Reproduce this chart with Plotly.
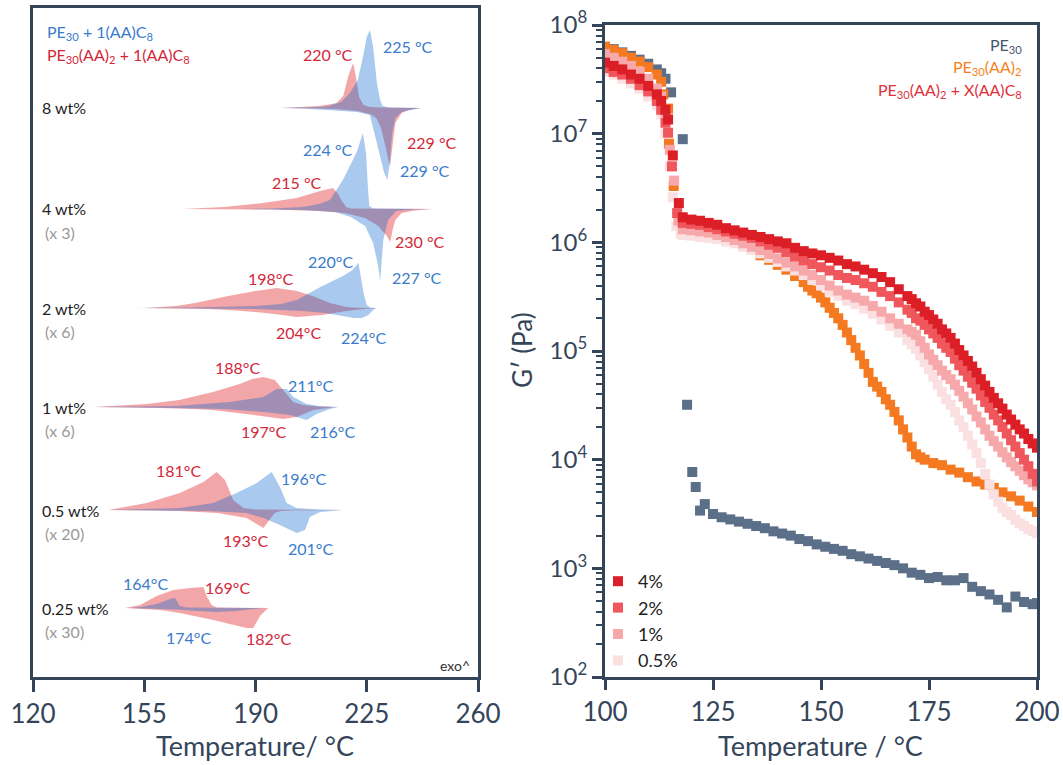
import plotly.graph_objects as go

W, H = 1063, 765
def px(x): return x / W
def py(y): return 1 - y / H

FONT = "Lato"
AX = "#34455a"
RED_TXT = "#d3283a"
BLUE_TXT = "#3a7bcc"

# ---------------- Left panel: DSC curves ----------------
LEVELS = ["8 wt%", "4 wt%", "2 wt%", "1 wt%", "0.5 wt%", "0.25 wt%"]
SCALES = ["", "(x 3)", "(x 6)", "(x 6)", "(x 20)", "(x 30)"]
BASELINES = [569, 468, 369, 270, 167, 69]  # vertical offsets (a.u.)

# PE30(AA)2 + 1(AA)C8  (red)
red_upT = {
    "8 wt%": [198, 205, 210, 214, 215.5, 217.6, 219.1, 220.7, 221.6, 222.6, 224, 226, 230, 242],
    "4 wt%": [167, 180, 192.4, 203, 210.3, 214.4, 216, 217, 218.5, 220, 246],
    "2 wt%": [154.7, 165, 171, 181.4, 190, 196.7, 203, 208, 213.4, 218.6, 222, 228],
    "1 wt%": [139, 150, 155.8, 166, 176.6, 185, 189, 192.5, 196.1, 198.7, 201.9, 205, 210, 215],
    "0.5 wt%": [143.7, 155.8, 166.2, 173.6, 177.8, 180.4, 183, 186.2, 190, 217.5],
    "0.25 wt%": [148.9, 153.7, 158.9, 164.1, 169.4, 173.6, 174.6, 176.2, 177.8, 194],
}
red_up = {
    "8 wt%": [0, 1, 2, 4, 5, 12, 31, 45, 31, 11, 3, 1, 0.5, 0],
    "4 wt%": [0, 2, 6, 11, 18, 21, 15, 9, 2, 0.5, 0],
    "2 wt%": [0, 2, 5, 12, 17, 20, 17, 12, 5, 1, 0.3, 0],
    "1 wt%": [0, 1.5, 3, 7, 15, 23, 28, 30, 27, 17, 5, 2, 0.5, 0],
    "0.5 wt%": [0, 7, 17, 28, 38, 30, 10, 2, 0.5, 0],
    "0.25 wt%": [0, 3, 12, 18, 20, 21, 12, 3, 0.5, 0],
}
red_dnT = {
    "8 wt%": [198, 210, 215, 222, 226, 228, 229.5, 231, 232.3, 233, 234, 236, 238, 242],
    "4 wt%": [167, 195, 210, 218, 224.5, 228.6, 231.3, 232.4, 233.2, 234, 236, 240, 246],
    "2 wt%": [154.7, 175, 181.4, 190, 196, 203, 208, 211, 218.6, 224, 228],
    "1 wt%": [139, 160, 170, 176.6, 187, 198.7, 202.9, 208.2, 213.4, 215],
    "0.5 wt%": [143.7, 166, 178, 187.2, 192.5, 194.5, 196, 198, 201, 217.5],
    "0.25 wt%": [148.9, 160, 166.2, 176.7, 187.2, 189.3, 191.4, 194],
}
red_dn = {
    "8 wt%": [0, 0.5, 1, 3, 6, 10, 20, 40, 59, 40, 15, 5, 2, 0],
    "4 wt%": [0, 0.5, 2, 4, 9, 17, 27, 33, 20, 11, 4, 1.5, 0],
    "2 wt%": [0, 1, 2, 4, 6, 9, 8, 7, 3, 1, 0],
    "1 wt%": [0, 1, 2, 3, 7, 12, 10, 3, 0.7, 0],
    "0.5 wt%": [0, 1, 3, 8, 18, 10, 3, 1, 0.5, 0],
    "0.25 wt%": [0, 2, 5, 12, 20, 20, 8, 0],
}

# PE30 + 1(AA)C8  (blue)
blue_upT = {
    "8 wt%": [198, 205, 210, 213, 217, 219.7, 222.2, 223.8, 225, 226, 227, 228.2, 229.2, 230, 232, 242],
    "4 wt%": [185, 195, 205, 210, 213.4, 217.5, 220, 222, 223.8, 224.8, 225.4, 225.8, 227, 245],
    "2 wt%": [152, 170, 190, 198, 203, 211, 217.5, 220.5, 222.4, 223.2, 224, 225, 226, 228],
    "1 wt%": [139, 165, 182, 192.5, 196.6, 199.8, 201.9, 206.1, 210, 216],
    "0.5 wt%": [143.7, 166.2, 176.7, 184, 190.4, 195.1, 197.7, 199.8, 202.9, 210, 217.6],
    "0.25 wt%": [150, 153.7, 158.9, 163.1, 164.7, 166.2, 168.3, 192.5],
}
blue_up = {
    "8 wt%": [0, 0.5, 1, 2, 6, 15, 28, 51, 71, 78, 61, 25, 8, 2, 0.5, 0],
    "4 wt%": [0, 0.5, 2, 5, 9, 29, 45, 58, 76, 55, 20, 3, 0.5, 0],
    "2 wt%": [0, 0.5, 2, 4, 8, 22, 32, 38, 45, 30, 15, 3, 0.5, 0],
    "1 wt%": [0, 1, 5, 10, 18, 18, 10, 3, 1, 0],
    "0.5 wt%": [0, 2, 7, 17, 27, 38, 23, 7, 2, 0.5, 0],
    "0.25 wt%": [0, 1, 4, 9, 10, 2, 0.5, 0],
}
blue_dnT = {
    "8 wt%": [198, 205, 213, 222, 226, 227.5, 229, 230.5, 231.5, 232.3, 233, 234, 236, 242],
    "4 wt%": [185, 205, 215, 220, 224.5, 227, 228.6, 229.2, 229.7, 230.2, 231.7, 234.3, 240, 245],
    "2 wt%": [152, 190, 205, 212, 217, 221, 223.5, 225.5, 227, 228],
    "1 wt%": [139, 165, 180, 192.5, 200.8, 206.1, 209.2, 213.4, 216],
    "0.5 wt%": [143.7, 175, 187.2, 192.5, 197.7, 202.9, 205.6, 207.1, 210.3, 217.6],
    "0.25 wt%": [150, 165.1, 171.5, 177.8, 184, 192.5],
}
blue_dn = {
    "8 wt%": [0, 0.5, 2, 4, 7, 25, 45, 65, 72, 52, 25, 10, 4, 0],
    "4 wt%": [0, 1, 3, 8, 17, 34, 57, 72, 50, 31, 11, 2, 0.5, 0],
    "2 wt%": [0, 1, 3, 5, 8, 10, 10, 7, 2, 0],
    "1 wt%": [0, 1, 2, 5, 8, 13, 7, 2, 0],
    "0.5 wt%": [0, 1, 3, 8, 15, 23, 20, 7, 2, 0],
    "0.25 wt%": [0, 1.5, 3, 4, 3, 0],
}

# peak labels: (text, colour-key, x px, y px)
PEAK_LABELS = [
    ("220 °C", "r", 328, 55), ("225 °C", "b", 408, 46), ("229 °C", "r", 432, 142),
    ("229 °C", "b", 425, 170), ("224 °C", "b", 328, 150), ("215 °C", "r", 297, 182),
    ("230 °C", "r", 420, 241), ("220°C", "b", 330, 261), ("227 °C", "b", 417, 277),
    ("198°C", "r", 270, 278), ("204°C", "r", 298, 332), ("224°C", "b", 363, 337),
    ("188°C", "r", 237, 367), ("211°C", "b", 310, 385), ("197°C", "r", 263, 431),
    ("216°C", "b", 332, 431), ("181°C", "r", 178, 470), ("196°C", "b", 303, 478),
    ("193°C", "r", 245, 540), ("201°C", "b", 310, 548), ("164°C", "b", 145, 583),
    ("169°C", "r", 227, 587), ("174°C", "b", 188, 637), ("182°C", "r", 268, 638),
]

# ---------------- Right panel: G' vs T ----------------
T_pe30 = [100, 102, 104, 106, 108, 110, 112, 113, 114, 115.3, 118, 119, 120.2, 121, 122, 123.1,
          125, 127, 129, 131, 133, 135, 137, 139, 141, 143, 145, 147, 149, 151, 153, 155, 157, 159,
          161, 163, 165, 167, 169, 171, 173, 175, 177, 179, 181, 183, 185, 187, 189, 191, 193, 195,
          197, 199, 200]
G_pe30 = [6.3e7, 6.0e7, 5.6e7, 5.2e7, 4.8e7, 4.4e7, 3.9e7, 3.6e7, 3.2e7, 2.4e7, 8.9e6, 3.2e4, 7.7e3,
          5.6e3, 3.4e3, 3.9e3, 3.16e3, 2.95e3, 2.82e3, 2.69e3, 2.57e3, 2.45e3, 2.34e3, 2.19e3, 2.09e3,
          2.0e3, 1.86e3, 1.78e3, 1.66e3, 1.58e3, 1.51e3, 1.45e3, 1.35e3, 1.29e3, 1.23e3, 1.17e3,
          1.12e3, 1.07e3, 1.0e3, 912, 871, 813, 832, 776, 776, 813, 676, 617, 575, 513, 437, 550,
          490, 468, 479]

T_aa2 = [100, 102, 104, 106, 108, 110, 112, 113, 113.5, 114.6, 114.8, 115.9, 117.4,
         118, 120, 122, 124, 126, 128, 130, 132, 134, 136, 138, 140, 142, 144, 146, 147, 148, 149,
         150, 151, 152, 153, 154, 155, 156, 157, 158, 159, 160, 161, 162, 163, 164, 165, 166, 167,
         168, 169, 170, 171, 172, 173, 174, 176, 178, 180, 182, 184, 186, 188, 190, 192, 194, 196,
         198, 200]
G_aa2 = [6.3e7, 5.9e7, 5.5e7, 5.0e7, 4.6e7, 4.1e7, 3.5e7, 3.0e7, 2.3e7, 1.7e7, 8.1e6, 3.3e6, 1.5e6,
         1.48e6, 1.41e6, 1.35e6, 1.29e6, 1.23e6, 1.15e6, 1.07e6, 9.5e5, 8.5e5, 7.6e5, 6.9e5, 6.2e5,
         5.6e5, 4.9e5, 4.3e5, 3.9e5, 3.6e5, 3.4e5, 3.1e5, 2.8e5, 2.5e5, 2.24e5, 2.0e5, 1.74e5,
         1.48e5, 1.26e5, 1.07e5, 9.1e4, 7.6e4, 6.3e4, 5.2e4, 4.7e4, 4.2e4, 3.6e4, 3.2e4, 2.75e4,
         2.3e4, 1.9e4, 1.6e4, 1.32e4, 1.12e4, 1.05e4, 1.0e4, 9.3e3, 8.9e3, 8.1e3, 7.6e3, 6.9e3,
         6.3e3, 5.9e3, 5.5e3, 5.0e3, 4.6e3, 4.2e3, 3.7e3, 3.3e3]

T_4 = [100, 102, 104, 106, 108, 110, 112, 113, 114, 114.6, 115.7, 117.1,
       118, 120, 122, 124, 126, 128, 130, 132, 134, 136, 138, 140, 142, 144, 146, 148, 150, 152,
       154, 156, 158, 160, 162, 164, 166, 168, 170, 171, 172, 173, 174, 175, 176, 177, 178, 179,
       180, 181, 182, 183, 184, 185, 186, 187, 188, 189, 190, 191, 192, 193, 194, 195, 196, 197,
       198, 199, 200]
G_4 = [4.5e7, 4.2e7, 3.9e7, 3.5e7, 3.2e7, 2.75e7, 2.3e7, 2.0e7, 1.66e7, 1.35e7, 6.3e6, 2.3e6,
       1.7e6, 1.62e6, 1.58e6, 1.51e6, 1.45e6, 1.35e6, 1.29e6, 1.23e6, 1.17e6, 1.12e6, 1.07e6,
       1.02e6, 9.8e5, 8.9e5, 8.3e5, 7.9e5, 7.6e5, 7.2e5, 6.8e5, 6.3e5, 6.0e5, 5.6e5, 5.2e5, 4.8e5,
       4.3e5, 3.7e5, 3.2e5, 3.0e5, 2.75e5, 2.57e5, 2.3e5, 2.14e5, 1.95e5, 1.78e5, 1.58e5, 1.45e5,
       1.32e5, 1.17e5, 1.02e5, 9.1e4, 8.1e4, 7.2e4, 6.3e4, 5.5e4, 4.8e4, 4.2e4, 3.7e4, 3.3e4,
       2.95e4, 2.6e4, 2.34e4, 2.1e4, 1.9e4, 1.74e4, 1.55e4, 1.41e4, 1.29e4]

T_2 = [100, 102, 104, 106, 108, 110, 112, 113, 114, 114.6, 115.5, 116.7,
       118, 120, 122, 124, 126, 128, 130, 132, 134, 136, 138, 140, 142, 144, 146, 148, 150, 152,
       154, 156, 158, 160, 162, 164, 166, 168, 170, 171, 172, 173, 174, 175, 176, 177, 178, 179,
       180, 181, 182, 183, 184, 185, 186, 187, 188, 189, 190, 191, 192, 193, 194, 195, 196, 197,
       198, 199, 200]
G_2 = [4.0e7, 3.7e7, 3.5e7, 3.2e7, 2.8e7, 2.45e7, 2.0e7, 1.66e7, 1.26e7, 1.02e7, 5.0e6, 1.86e6,
       1.51e6, 1.48e6, 1.45e6, 1.38e6, 1.32e6, 1.26e6, 1.20e6, 1.15e6, 1.10e6, 1.02e6, 9.5e5,
       8.9e5, 8.1e5, 7.4e5, 6.8e5, 6.3e5, 5.9e5, 5.5e5, 5.0e5, 4.7e5, 4.5e5, 4.2e5, 3.9e5, 3.5e5,
       3.2e5, 2.8e5, 2.4e5, 2.24e5, 2.0e5, 1.9e5, 1.74e5, 1.58e5, 1.45e5, 1.32e5, 1.17e5, 1.07e5,
       9.8e4, 8.5e4, 7.4e4, 6.6e4, 5.8e4, 5.1e4, 4.5e4, 3.9e4, 3.4e4, 3.0e4, 2.6e4, 2.3e4, 2.0e4,
       1.74e4, 1.51e4, 1.32e4, 1.15e4, 1.0e4, 8.7e3, 7.4e3, 6.3e3]

T_1 = [100, 102, 104, 106, 108, 110, 112, 113, 114, 115, 116, 117,
       118, 120, 122, 124, 126, 128, 130, 132, 134, 136, 138, 140, 142, 144, 146, 148, 150, 152,
       154, 156, 158, 160, 162, 164, 166, 168, 170, 171, 172, 173, 174, 175, 176, 177, 178, 179,
       180, 181, 182, 183, 184, 185, 186, 187, 188, 189, 190, 191, 192, 193, 194, 195, 196, 197,
       198, 199, 200]
G_1 = [5.4e7, 5.0e7, 4.6e7, 4.2e7, 3.7e7, 3.2e7, 2.6e7, 2.2e7, 1.58e7, 7.1e6, 3.7e6, 1.58e6,
       1.32e6, 1.29e6, 1.26e6, 1.23e6, 1.17e6, 1.12e6, 1.05e6, 9.8e5, 9.1e5, 8.5e5, 7.8e5, 7.1e5,
       6.5e5, 6.0e5, 5.5e5, 5.0e5, 4.5e5, 4.0e5, 3.6e5, 3.3e5, 3.1e5, 2.9e5, 2.6e5, 2.3e5, 2.0e5,
       1.78e5, 1.58e5, 1.5e5, 1.41e5, 1.23e5, 1.07e5, 9.3e4, 8.3e4, 7.4e4, 6.6e4, 6.0e4, 5.5e4,
       4.9e4, 4.3e4, 3.8e4, 3.3e4, 2.9e4, 2.5e4, 2.2e4, 1.9e4, 1.66e4, 1.48e4, 1.32e4, 1.17e4,
       1.05e4, 9.5e3, 8.7e3, 7.9e3, 7.2e3, 6.6e3, 6.2e3, 5.8e3]

T_05 = [100, 102, 104, 106, 108, 110, 112, 113, 114, 115, 115.7, 116.5, 117.5,
        118, 120, 122, 124, 126, 128, 130, 132, 134, 136, 138, 140, 142, 144, 146, 148, 150, 152,
        154, 156, 158, 160, 162, 164, 166, 168, 170, 171, 172, 173, 174, 175, 176, 177, 178, 179,
        180, 181, 182, 183, 184, 185, 186, 187, 188, 189, 190, 191, 192, 193, 194, 195, 196, 197,
        198, 199, 200]
G_05 = [3.7e7, 3.5e7, 3.2e7, 2.9e7, 2.6e7, 2.2e7, 1.82e7, 1.51e7, 1.0e7, 5.0e6, 2.6e6, 1.41e6,
        1.2e6, 1.17e6, 1.15e6, 1.12e6, 1.10e6, 1.07e6, 1.02e6, 9.8e5, 9.1e5, 8.5e5, 7.9e5, 7.2e5,
        6.6e5, 6.0e5, 5.5e5, 5.0e5, 4.5e5, 4.0e5, 3.5e5, 3.2e5, 2.9e5, 2.7e5, 2.45e5, 2.2e5,
        1.95e5, 1.7e5, 1.48e5, 1.26e5, 1.15e5, 1.05e5, 9.1e4, 7.9e4, 6.8e4, 5.8e4, 4.9e4, 4.2e4,
        3.6e4, 3.2e4, 2.75e4, 2.3e4, 2.0e4, 1.66e4, 1.38e4, 1.15e4, 9.3e3, 7.4e3, 5.9e3, 4.8e3,
        4.1e3, 3.6e3, 3.3e3, 3.1e3, 2.8e3, 2.6e3, 2.45e3, 2.3e3, 2.2e3, 2.1e3]

fig = go.Figure()

# --- DSC shapes: red first, blue on top ---
def shape(upT, up, dnT, dn, base):
    xs = list(upT) + list(dnT)[::-1]
    ys = [base + v for v in up] + [base - v for v in dn][::-1]
    return xs, ys

for lvl, base in zip(LEVELS, BASELINES):
    xs, ys = shape(red_upT[lvl], red_up[lvl], red_dnT[lvl], red_dn[lvl], base)
    fig.add_trace(go.Scatter(x=xs, y=ys, fill="toself", mode="lines", line=dict(width=0),
                             fillcolor="rgba(235,107,110,0.6)", showlegend=False,
                             hoverinfo="skip", xaxis="x", yaxis="y"))
for lvl, base in zip(LEVELS, BASELINES):
    xs, ys = shape(blue_upT[lvl], blue_up[lvl], blue_dnT[lvl], blue_dn[lvl], base)
    fig.add_trace(go.Scatter(x=xs, y=ys, fill="toself", mode="lines", line=dict(width=0),
                             fillcolor="rgba(2,96,205,0.34)", showlegend=False,
                             hoverinfo="skip", xaxis="x", yaxis="y"))

# --- rheology scatter ---
series = [
    ("PE30", T_pe30, G_pe30, "#5b6f89", False, 0),
    ("PE30(AA)2", T_aa2, G_aa2, "#f47920", False, 0),
    ("0.5%", T_05, G_05, "#fbe0e2", True, 4),
    ("1%", T_1, G_1, "#f6a8aa", True, 3),
    ("2%", T_2, G_2, "#ef575c", True, 2),
    ("4%", T_4, G_4, "#dc1e27", True, 1),
]
for name, t, g, col, leg, rank in series:
    fig.add_trace(go.Scatter(x=t, y=g, mode="markers", name=name,
                             marker=dict(symbol="square", size=10, color=col, line=dict(width=0)),
                             showlegend=leg, legendrank=rank if leg else 1000,
                             xaxis="x2", yaxis="y2"))

ann = []
for i, (lvl, sc) in enumerate(zip(LEVELS, SCALES)):
    ylev = 677 - BASELINES[i]
    ann.append(dict(x=px(40), y=py(ylev), xref="paper", yref="paper", text=lvl,
                    showarrow=False, xanchor="left", yanchor="middle",
                    font=dict(family=FONT, size=16, color="#222222")))
    if sc:
        ann.append(dict(x=px(43), y=py(ylev + 23), xref="paper", yref="paper", text=sc,
                        showarrow=False, xanchor="left", yanchor="middle",
                        font=dict(family=FONT, size=16, color="#9a9a9a")))
for txt, c, x, y in PEAK_LABELS:
    ann.append(dict(x=px(x), y=py(y), xref="paper", yref="paper", text=txt, showarrow=False,
                    xanchor="center", yanchor="middle",
                    font=dict(family=FONT, size=16, color=RED_TXT if c == "r" else BLUE_TXT)))
ann += [
    dict(x=px(45), y=py(33), xref="paper", yref="paper", xanchor="left", yanchor="middle",
         text="PE<sub>30</sub> + 1(AA)C<sub>8</sub>", showarrow=False,
         font=dict(family=FONT, size=16, color=BLUE_TXT)),
    dict(x=px(45), y=py(56), xref="paper", yref="paper", xanchor="left", yanchor="middle",
         text="PE<sub>30</sub>(AA)<sub>2</sub> + 1(AA)C<sub>8</sub>", showarrow=False,
         font=dict(family=FONT, size=16, color=RED_TXT)),
    dict(x=px(472), y=py(665), xref="paper", yref="paper", xanchor="right", yanchor="middle",
         text="exo^", showarrow=False, font=dict(family=FONT, size=14, color="#333333")),
    dict(x=px(1024), y=py(45), xref="paper", yref="paper", xanchor="right", yanchor="middle",
         text="PE<sub>30</sub>", showarrow=False, font=dict(family=FONT, size=16, color="#46586f")),
    dict(x=px(1024), y=py(67), xref="paper", yref="paper", xanchor="right", yanchor="middle",
         text="PE<sub>30</sub>(AA)<sub>2</sub>", showarrow=False,
         font=dict(family=FONT, size=16, color="#f58220")),
    dict(x=px(1024), y=py(90), xref="paper", yref="paper", xanchor="right", yanchor="middle",
         text="PE<sub>30</sub>(AA)<sub>2</sub> + X(AA)C<sub>8</sub>", showarrow=False,
         font=dict(family=FONT, size=16, color="#e0303a")),
    # axis titles
    dict(x=px(255), y=py(745), xref="paper", yref="paper", xanchor="center", yanchor="middle",
         text="Temperature/ °C", showarrow=False, font=dict(family=FONT, size=27, color=AX)),
    dict(x=px(820), y=py(745), xref="paper", yref="paper", xanchor="center", yanchor="middle",
         text="Temperature / °C", showarrow=False, font=dict(family=FONT, size=27, color=AX)),
    dict(x=px(522), y=py(350), xref="paper", yref="paper", xanchor="center", yanchor="middle",
         text="G′ (Pa)", textangle=-90, showarrow=False,
         font=dict(family=FONT, size=26, color=AX)),
]

dec = [1e2, 1e3, 1e4, 1e5, 1e6, 1e7, 1e8]
dec_txt = ["10<sup>%d</sup>" % e for e in range(2, 9)]
minor_vals = [m * 10 ** e for e in range(2, 8) for m in range(2, 10)]

fig.update_layout(
    width=W, height=H, margin=dict(l=0, r=0, t=0, b=0, autoexpand=False),
    paper_bgcolor="white", plot_bgcolor="white",
    font=dict(family=FONT, color=AX),
    annotations=ann,
    xaxis=dict(domain=[px(33), px(478)], range=[120, 260], tickvals=[120, 155, 190, 225, 260],
               ticks="outside", ticklen=12, tickwidth=3, tickcolor=AX, showline=True,
               linewidth=3, linecolor=AX, mirror=True, showgrid=False, zeroline=False,
               automargin=False, tickfont=dict(family=FONT, size=26, color=AX)),
    yaxis=dict(domain=[py(677), py(8)], range=[0, 669], showticklabels=False, ticks="",
               showline=True, linewidth=3, linecolor=AX, mirror=True, showgrid=False,
               zeroline=False, automargin=False),
    xaxis2=dict(domain=[px(605), px(1037)], range=[100, 200], dtick=25, anchor="y2",
                ticks="outside", ticklen=10, tickwidth=3, tickcolor=AX, showline=True,
                linewidth=3, linecolor=AX, mirror=True, showgrid=False, zeroline=False,
                automargin=False, tickfont=dict(family=FONT, size=26, color=AX)),
    yaxis2=dict(domain=[py(677), py(25)], type="log", range=[2, 8], anchor="x2",
                tickmode="array", tickvals=dec, ticktext=dec_txt,
                ticks="outside", ticklen=10, tickwidth=3, tickcolor=AX, showline=True,
                linewidth=3, linecolor=AX, mirror=True, showgrid=False, zeroline=False,
                automargin=False, tickfont=dict(family=FONT, size=24, color=AX),
                minor=dict(tickmode="array", tickvals=minor_vals, ticks="outside", ticklen=6,
                           tickwidth=2, tickcolor=AX, showgrid=False)),
    legend=dict(x=px(598), y=py(563), xanchor="left", yanchor="top", bgcolor="rgba(0,0,0,0)",
                font=dict(family=FONT, size=18, color="#222222"), itemwidth=30,
                tracegroupgap=0),
)

fig.write_html("out.html")
